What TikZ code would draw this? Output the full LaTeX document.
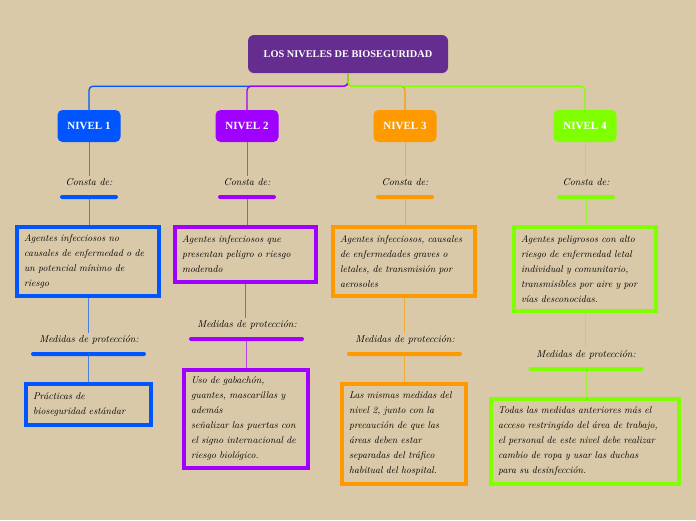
\documentclass[tikz,border=0pt]{standalone}
\usepackage{fontspec}
\newfontfamily\headfont{Liberation Serif}
\usetikzlibrary{positioning}

\definecolor{paper}{RGB}{217,201,168}
\definecolor{rootc}{RGB}{102,45,145}
\definecolor{lvA}{RGB}{0,85,255}
\definecolor{lvB}{RGB}{160,0,255}
\definecolor{lvC}{RGB}{255,153,0}
\definecolor{lvD}{RGB}{128,255,0}

\tikzset{
    head/.style={fill=rootc, text=white, rounded corners=6pt, minimum width=200pt,
        minimum height=38pt, font=\headfont\bfseries\fontsize{10.3}{12}\selectfont},
    level/.style={fill=#1, text=white, rounded corners=5pt, minimum width=63pt,
        minimum height=32pt, font=\headfont\bfseries\fontsize{11}{13}\selectfont},
    tag/.style={font=\itshape\fontsize{10}{12}\selectfont, inner sep=2pt},
    bar/.style={fill=#1, rounded corners=2pt, minimum height=4pt, inner sep=0pt},
    box/.style={draw=#1, line width=4.5pt, inner xsep=7pt, inner ysep=4pt, align=left,
        font=\itshape\fontsize{9.8}{15}\selectfont},
    branch/.style={draw=#1, line width=1.3pt, rounded corners=4pt},
    stem/.style={draw=#1!65!paper, line width=0.8pt},
}

\begin{document}
\begin{tikzpicture}[x=1pt, y=-1pt]

    % ===== Background =====
    \fill[paper] (0,0) rectangle (696,520);
    \useasboundingbox (0,0) rectangle (696,520);

    % ===== Title and levels =====
    \node[head] (root) at (348,54) {LOS NIVELES DE BIOSEGURIDAD};

    \node[level=lvA] (lev1) at (89,126)  {NIVEL 1};
    \node[level=lvB] (lev2) at (247,126) {NIVEL 2};
    \node[level=lvC] (lev3) at (405,126) {NIVEL 3};
    \node[level=lvD] (lev4) at (585,126) {NIVEL 4};

    % branches from the title
    \draw[branch=lvA] (root.south) -- ++(0,13) -| (lev1.north);
    \draw[branch=lvB] (root.south) -- ++(0,13) -| (lev2.north);
    \draw[branch=lvC] (root.south) -- ++(0,13) -| (lev3.north);
    \draw[branch=lvD] (root.south) -- ++(0,13) -| (lev4.north);

    % ===== "Consta de:" labels =====
    \node[tag] (con1) at (89,182)  {Consta de:};
    \node[tag] (con2) at (247,182) {Consta de:};
    \node[tag] (con3) at (405,182) {Consta de:};
    \node[tag] (con4) at (586,182) {Consta de:};

    \node[bar=lvA, minimum width=58pt] (cbar1) at (89,197)  {};
    \node[bar=lvB, minimum width=58pt] (cbar2) at (247,197) {};
    \node[bar=lvC, minimum width=58pt] (cbar3) at (405,197) {};
    \node[bar=lvD, minimum width=58pt] (cbar4) at (586,197) {};

    % ===== Descriptions =====
    \node[box=lvA, text width=128pt, minimum height=69pt] (desc1) at (88,261.5)
        {Agentes infecciosos no\\causales de enfermedad o de\\un potencial mínimo de\\riesgo};
    \node[box=lvB, text width=127pt, minimum height=55pt] (desc2) at (245.5,254.5)
        {Agentes infecciosos que\\presentan peligro o riesgo\\moderado};
    \node[box=lvC, text width=128pt, minimum height=69pt] (desc3) at (404,261.5)
        {Agentes infecciosos, causales\\de enfermedades graves o\\letales, de transmisión por\\aerosoles};
    \node[box=lvD, text width=128pt, minimum height=84pt] (desc4) at (585,269)
        {Agentes peligrosos con alto\\riesgo de enfermedad letal\\individual y comunitario,\\transmisibles por aire y por\\vías desconocidas.};

    % ===== "Medidas de protección:" labels =====
    \node[tag] (med1) at (89,340)  {Medidas de protección:};
    \node[tag] (med2) at (247,325) {Medidas de protección:};
    \node[tag] (med3) at (405,340) {Medidas de protección:};
    \node[tag] (med4) at (586,355) {Medidas de protección:};

    \node[bar=lvA, minimum width=115pt] (mbar1) at (88.5,354) {};
    \node[bar=lvB, minimum width=115pt] (mbar2) at (246.5,339) {};
    \node[bar=lvC, minimum width=115pt] (mbar3) at (404.5,354) {};
    \node[bar=lvD, minimum width=115pt] (mbar4) at (586,369) {};

    % ===== Protection measures =====
    \node[box=lvA, text width=111pt, minimum height=41pt] (prot1) at (88.5,404.5)
        {Prácticas de\\bioseguridad estándar};
    \node[box=lvB, text width=110pt, minimum height=98pt] (prot2) at (246,419)
        {Uso de gabachón,\\guantes, mascarillas y\\además\\señalizar las puertas con\\el signo internacional de\\riesgo biológico.};
    \node[box=lvC, text width=110pt, minimum height=100pt] (prot3) at (404,434)
        {Las mismas medidas del\\nivel 2, junto con la\\precaución de que las\\áreas deben estar\\separadas del tráfico\\habitual del hospital.};
    \node[box=lvD, text width=174pt, minimum height=85pt] (prot4) at (585,441.5)
        {Todas las medidas anteriores más el\\acceso restringido del área de trabajo,\\el personal de este nivel debe realizar\\cambio de ropa y usar las duchas\\para su desinfección.};

    % ===== Stems =====
    \draw[stem=lvA] (lev1.south) -- (lev1.south |- con1.north);
    \draw[stem=lvB] (lev2.south) -- (lev2.south |- con2.north);
    \draw[stem=lvC] (lev3.south) -- (lev3.south |- con3.north);
    \draw[stem=lvD] (lev4.south) -- (lev4.south |- con4.north);

    \draw[stem=lvA] (cbar1.south) -- (cbar1.south |- desc1.north);
    \draw[stem=lvB] (cbar2.south) -- (cbar2.south |- desc2.north);
    \draw[stem=lvC] (cbar3.south) -- (cbar3.south |- desc3.north);
    \draw[stem=lvD] (cbar4.south) -- (cbar4.south |- desc4.north);

    \draw[stem=lvA] (desc1.south) -- (desc1.south |- med1.north);
    \draw[stem=lvB] (desc2.south) -- (desc2.south |- med2.north);
    \draw[stem=lvC] (desc3.south) -- (desc3.south |- med3.north);
    \draw[stem=lvD] (desc4.south) -- (desc4.south |- med4.north);

    \draw[stem=lvA] (mbar1.south) -- (mbar1.south |- prot1.north);
    \draw[stem=lvB] (mbar2.south) -- (mbar2.south |- prot2.north);
    \draw[stem=lvC] (mbar3.south) -- (mbar3.south |- prot3.north);
    \draw[stem=lvD] (mbar4.south) -- (mbar4.south |- prot4.north);

\end{tikzpicture}
\end{document}
